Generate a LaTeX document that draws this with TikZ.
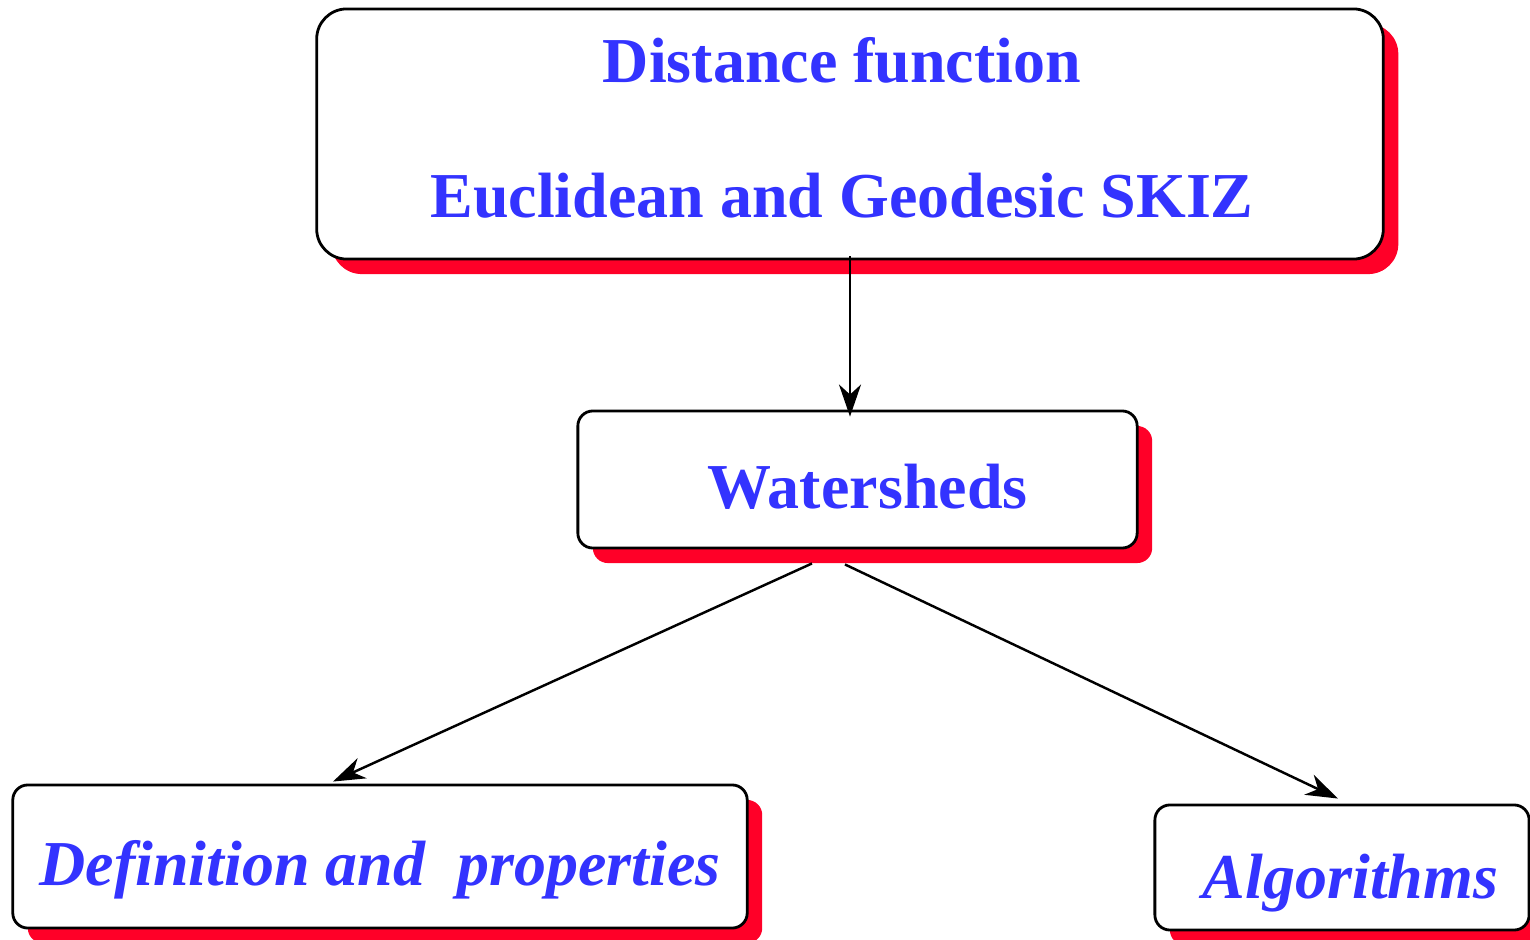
\documentclass[tikz,border=0pt]{standalone}
\usepackage{fontspec}
\setmainfont{Liberation Serif}
\usetikzlibrary{shadows,arrows.meta}
\definecolor{boxred}{RGB}{255,0,40}
\definecolor{textblue}{RGB}{51,51,255}

\begin{document}
\begin{tikzpicture}[x=0.01cm,y=-0.01cm,
  box/.style={draw,thick,fill=white,rounded corners=0.15cm,text depth=0cm,
    text=textblue,font=\fontsize{18.2}{38.4}\selectfont\bfseries,
    drop shadow={shadow xshift=0.15cm,shadow yshift=-0.15cm,fill=boxred,opacity=1}},
  slanted/.style={font=\fontsize{18.2}{22}\selectfont\bfseries\itshape},
  link/.style={-{Stealth[length=0.32cm,width=0.22cm,inset=0.1cm]},line width=0.7pt}]

  \useasboundingbox (0,0) rectangle (1530,940);

  % boxes

  \node [box,rounded corners=0.3cm,minimum width=10.66cm,minimum height=2.5cm,
    align=center,text height=1.66cm] (dist) at (850,134)
    {Distance function\hspace*{0.16cm}\\Euclidean and Geodesic SKIZ\hspace*{0.16cm}};
  \node [box,minimum width=5.59cm,minimum height=1.37cm,text height=0.57cm]
    (wat) at (857.5,479.5) {\hspace{0.2cm}Watersheds};
  \node [box,slanted,minimum width=7.34cm,minimum height=1.43cm,text height=0.57cm]
    (def) at (380,856.5) {Definition and\ \ properties};
  \node [box,slanted,minimum width=3.74cm,minimum height=1.25cm,text height=0.61cm]
    (alg) at (1342,867.5) {\hspace{0.17cm}Algorithms};

  % links

  \draw [link] ([yshift=0.04cm]dist.south) -- ([yshift=-0.07cm]dist.south |- wat.north);
  \draw [link] ([xshift=-0.455cm,yshift=-0.14cm]wat.south) -- ([xshift=-0.47cm,yshift=0.02cm]def.north);
  \draw [link] ([xshift=-0.125cm,yshift=-0.15cm]wat.south) -- ([xshift=-0.04cm,yshift=0.05cm]alg.north);

\end{tikzpicture}
\end{document}
